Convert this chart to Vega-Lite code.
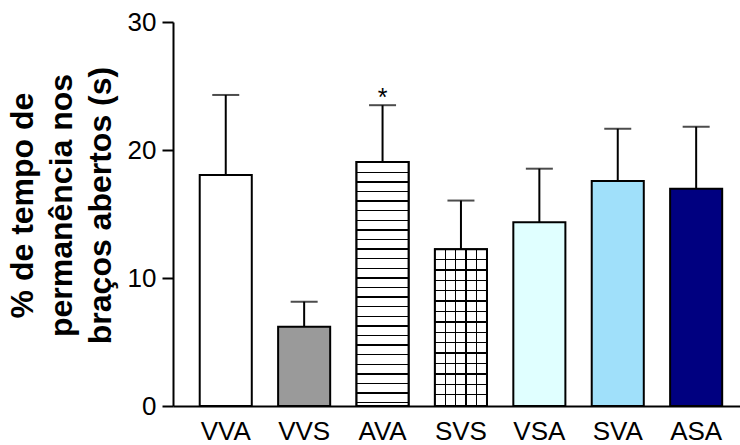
{
  "$schema": "https://vega.github.io/schema/vega-lite/v6.json",
  "autosize": {"type": "none"},
  "padding": {"left": 173, "top": 22, "right": 0, "bottom": 39},
  "width": 567,
  "height": 384,
  "background": "white",
  "config": {"font": "Liberation Sans", "view": {"stroke": null}},
  "data": {"values": [
    {"g": "VVA", "v": 18.05, "e": 24.3},
    {"g": "VVS", "v": 6.2, "e": 8.15},
    {"g": "AVA", "v": 19.06, "e": 23.5},
    {"g": "SVS", "v": 12.24, "e": 16.05},
    {"g": "VSA", "v": 14.35, "e": 18.54},
    {"g": "SVA", "v": 17.58, "e": 21.66},
    {"g": "ASA", "v": 16.98, "e": 21.82}
  ]},
  "encoding": {
    "x": {"field": "g", "type": "nominal", "sort": null,
      "scale": {"paddingInner": 0.336, "paddingOuter": 0.284, "align": 0.6},
      "axis": {"title": null, "labelAngle": 0, "ticks": false, "labelPadding": 12, "labelFontSize": 26, "labelColor": "black", "domainColor": "black", "domainWidth": 2, "labelFont": "Liberation Sans"}}
  },
  "layer": [
    {
      "mark": {"type": "bar", "stroke": "black", "strokeWidth": 2},
      "encoding": {
        "y": {"field": "v", "type": "quantitative",
          "scale": {"domain": [0, 30], "nice": false},
          "axis": {"values": [0, 10, 20, 30], "grid": false, "tickSize": 11, "tickWidth": 2, "tickColor": "black",
            "domainColor": "black", "domainWidth": 2, "labelFontSize": 26, "labelColor": "black", "labelPadding": 6,
            "labelFont": "Liberation Sans",
            "title": ["% de tempo de", "permanência nos", "braços abertos (s)"],
            "titleFontSize": 32, "titleFontWeight": "bold", "titleColor": "black", "titleLineHeight": 39,
            "titlePadding": 10, "titleY": 183, "titleFont": "Liberation Sans"}},
        "fill": {"field": "g", "type": "nominal", "legend": null,
          "scale": {"domain": ["VVA", "VVS", "AVA", "SVS", "VSA", "SVA", "ASA"],
            "range": ["#ffffff", "#9a9a9a", "#ffffff", "#ffffff", "#E0FFFF", "#A0E0FA", "#000080"]}}
      }
    },
    {
      "transform": [{"filter": "datum.g == 'AVA'"}],
      "mark": {"type": "bar", "stroke": "black", "strokeWidth": 2,
        "fill": {"gradient": "linear", "x1": 0, "y1": 0, "x2": 0, "y2": 1, "stops": [
          {"offset": 0, "color": "#fff"},
          {"offset": 0.0392, "color": "#fff"}, {"offset": 0.0392, "color": "#000"}, {"offset": 0.0452, "color": "#000"}, {"offset": 0.0452, "color": "#fff"},
          {"offset": 0.0786, "color": "#fff"}, {"offset": 0.0786, "color": "#000"}, {"offset": 0.0846, "color": "#000"}, {"offset": 0.0846, "color": "#fff"},
          {"offset": 0.1179, "color": "#fff"}, {"offset": 0.1179, "color": "#000"}, {"offset": 0.1239, "color": "#000"}, {"offset": 0.1239, "color": "#fff"},
          {"offset": 0.1572, "color": "#fff"}, {"offset": 0.1572, "color": "#000"}, {"offset": 0.1632, "color": "#000"}, {"offset": 0.1632, "color": "#fff"},
          {"offset": 0.1966, "color": "#fff"}, {"offset": 0.1966, "color": "#000"}, {"offset": 0.2026, "color": "#000"}, {"offset": 0.2026, "color": "#fff"},
          {"offset": 0.2359, "color": "#fff"}, {"offset": 0.2359, "color": "#000"}, {"offset": 0.2419, "color": "#000"}, {"offset": 0.2419, "color": "#fff"},
          {"offset": 0.2753, "color": "#fff"}, {"offset": 0.2753, "color": "#000"}, {"offset": 0.2813, "color": "#000"}, {"offset": 0.2813, "color": "#fff"},
          {"offset": 0.3146, "color": "#fff"}, {"offset": 0.3146, "color": "#000"}, {"offset": 0.3206, "color": "#000"}, {"offset": 0.3206, "color": "#fff"},
          {"offset": 0.3540, "color": "#fff"}, {"offset": 0.3540, "color": "#000"}, {"offset": 0.3600, "color": "#000"}, {"offset": 0.3600, "color": "#fff"},
          {"offset": 0.3933, "color": "#fff"}, {"offset": 0.3933, "color": "#000"}, {"offset": 0.3993, "color": "#000"}, {"offset": 0.3993, "color": "#fff"},
          {"offset": 0.4327, "color": "#fff"}, {"offset": 0.4327, "color": "#000"}, {"offset": 0.4387, "color": "#000"}, {"offset": 0.4387, "color": "#fff"},
          {"offset": 0.4720, "color": "#fff"}, {"offset": 0.4720, "color": "#000"}, {"offset": 0.4780, "color": "#000"}, {"offset": 0.4780, "color": "#fff"},
          {"offset": 0.5113, "color": "#fff"}, {"offset": 0.5113, "color": "#000"}, {"offset": 0.5173, "color": "#000"}, {"offset": 0.5173, "color": "#fff"},
          {"offset": 0.5507, "color": "#fff"}, {"offset": 0.5507, "color": "#000"}, {"offset": 0.5567, "color": "#000"}, {"offset": 0.5567, "color": "#fff"},
          {"offset": 0.5900, "color": "#fff"}, {"offset": 0.5900, "color": "#000"}, {"offset": 0.5960, "color": "#000"}, {"offset": 0.5960, "color": "#fff"},
          {"offset": 0.6294, "color": "#fff"}, {"offset": 0.6294, "color": "#000"}, {"offset": 0.6354, "color": "#000"}, {"offset": 0.6354, "color": "#fff"},
          {"offset": 0.6687, "color": "#fff"}, {"offset": 0.6687, "color": "#000"}, {"offset": 0.6747, "color": "#000"}, {"offset": 0.6747, "color": "#fff"},
          {"offset": 0.7081, "color": "#fff"}, {"offset": 0.7081, "color": "#000"}, {"offset": 0.7141, "color": "#000"}, {"offset": 0.7141, "color": "#fff"},
          {"offset": 0.7474, "color": "#fff"}, {"offset": 0.7474, "color": "#000"}, {"offset": 0.7534, "color": "#000"}, {"offset": 0.7534, "color": "#fff"},
          {"offset": 0.7868, "color": "#fff"}, {"offset": 0.7868, "color": "#000"}, {"offset": 0.7928, "color": "#000"}, {"offset": 0.7928, "color": "#fff"},
          {"offset": 0.8261, "color": "#fff"}, {"offset": 0.8261, "color": "#000"}, {"offset": 0.8321, "color": "#000"}, {"offset": 0.8321, "color": "#fff"},
          {"offset": 0.8654, "color": "#fff"}, {"offset": 0.8654, "color": "#000"}, {"offset": 0.8714, "color": "#000"}, {"offset": 0.8714, "color": "#fff"},
          {"offset": 0.9048, "color": "#fff"}, {"offset": 0.9048, "color": "#000"}, {"offset": 0.9108, "color": "#000"}, {"offset": 0.9108, "color": "#fff"},
          {"offset": 0.9441, "color": "#fff"}, {"offset": 0.9441, "color": "#000"}, {"offset": 0.9501, "color": "#000"}, {"offset": 0.9501, "color": "#fff"},
          {"offset": 0.9835, "color": "#fff"}, {"offset": 0.9835, "color": "#000"}, {"offset": 0.9895, "color": "#000"}, {"offset": 0.9895, "color": "#fff"},
          {"offset": 1, "color": "#fff"}
        ]}},
      "encoding": {"y": {"field": "v", "type": "quantitative"}}
    },
    {
      "transform": [{"filter": "datum.g == 'SVS'"}],
      "mark": {"type": "bar", "strokeWidth": 0,
        "fill": {"gradient": "linear", "x1": 0, "y1": 0, "x2": 0, "y2": 1, "stops": [
          {"offset": 0, "color": "#fff"},
          {"offset": 0.0606, "color": "#fff"}, {"offset": 0.0606, "color": "#000"}, {"offset": 0.0696, "color": "#000"}, {"offset": 0.0696, "color": "#fff"},
          {"offset": 0.1270, "color": "#fff"}, {"offset": 0.1270, "color": "#000"}, {"offset": 0.1360, "color": "#000"}, {"offset": 0.1360, "color": "#fff"},
          {"offset": 0.1933, "color": "#fff"}, {"offset": 0.1933, "color": "#000"}, {"offset": 0.2023, "color": "#000"}, {"offset": 0.2023, "color": "#fff"},
          {"offset": 0.2597, "color": "#fff"}, {"offset": 0.2597, "color": "#000"}, {"offset": 0.2687, "color": "#000"}, {"offset": 0.2687, "color": "#fff"},
          {"offset": 0.3261, "color": "#fff"}, {"offset": 0.3261, "color": "#000"}, {"offset": 0.3351, "color": "#000"}, {"offset": 0.3351, "color": "#fff"},
          {"offset": 0.3924, "color": "#fff"}, {"offset": 0.3924, "color": "#000"}, {"offset": 0.4014, "color": "#000"}, {"offset": 0.4014, "color": "#fff"},
          {"offset": 0.4588, "color": "#fff"}, {"offset": 0.4588, "color": "#000"}, {"offset": 0.4678, "color": "#000"}, {"offset": 0.4678, "color": "#fff"},
          {"offset": 0.5252, "color": "#fff"}, {"offset": 0.5252, "color": "#000"}, {"offset": 0.5342, "color": "#000"}, {"offset": 0.5342, "color": "#fff"},
          {"offset": 0.5915, "color": "#fff"}, {"offset": 0.5915, "color": "#000"}, {"offset": 0.6005, "color": "#000"}, {"offset": 0.6005, "color": "#fff"},
          {"offset": 0.6579, "color": "#fff"}, {"offset": 0.6579, "color": "#000"}, {"offset": 0.6669, "color": "#000"}, {"offset": 0.6669, "color": "#fff"},
          {"offset": 0.7243, "color": "#fff"}, {"offset": 0.7243, "color": "#000"}, {"offset": 0.7333, "color": "#000"}, {"offset": 0.7333, "color": "#fff"},
          {"offset": 0.7907, "color": "#fff"}, {"offset": 0.7907, "color": "#000"}, {"offset": 0.7997, "color": "#000"}, {"offset": 0.7997, "color": "#fff"},
          {"offset": 0.8570, "color": "#fff"}, {"offset": 0.8570, "color": "#000"}, {"offset": 0.8660, "color": "#000"}, {"offset": 0.8660, "color": "#fff"},
          {"offset": 0.9234, "color": "#fff"}, {"offset": 0.9234, "color": "#000"}, {"offset": 0.9324, "color": "#000"}, {"offset": 0.9324, "color": "#fff"},
          {"offset": 1, "color": "#fff"}
        ]}},
      "encoding": {"y": {"field": "v", "type": "quantitative"}}
    },
    {
      "transform": [{"filter": "datum.g == 'SVS'"}],
      "mark": {"type": "bar", "stroke": "black", "strokeWidth": 2,
        "fill": {"gradient": "linear", "x1": 0, "y1": 0, "x2": 1, "y2": 0, "stops": [
          {"offset": 0, "color": "rgba(0,0,0,0)"},
          {"offset": 0.187, "color": "rgba(0,0,0,0)"}, {"offset": 0.187, "color": "#000"}, {"offset": 0.213, "color": "#000"}, {"offset": 0.213, "color": "rgba(0,0,0,0)"},
          {"offset": 0.387, "color": "rgba(0,0,0,0)"}, {"offset": 0.387, "color": "#000"}, {"offset": 0.413, "color": "#000"}, {"offset": 0.413, "color": "rgba(0,0,0,0)"},
          {"offset": 0.587, "color": "rgba(0,0,0,0)"}, {"offset": 0.587, "color": "#000"}, {"offset": 0.613, "color": "#000"}, {"offset": 0.613, "color": "rgba(0,0,0,0)"},
          {"offset": 0.787, "color": "rgba(0,0,0,0)"}, {"offset": 0.787, "color": "#000"}, {"offset": 0.813, "color": "#000"}, {"offset": 0.813, "color": "rgba(0,0,0,0)"},
          {"offset": 1, "color": "rgba(0,0,0,0)"}
        ]}},
      "encoding": {"y": {"field": "v", "type": "quantitative"}}
    },
    {
      "mark": {"type": "rule", "color": "black", "strokeWidth": 2},
      "encoding": {"y": {"field": "v", "type": "quantitative"}, "y2": {"field": "e"}}
    },
    {
      "mark": {"type": "tick", "color": "black", "thickness": 2, "size": 27},
      "encoding": {"y": {"field": "e", "type": "quantitative"}}
    },
    {
      "transform": [{"filter": "datum.g == 'AVA'"}],
      "mark": {"type": "text", "text": "*", "fontSize": 25, "baseline": "alphabetic", "dy": 1, "color": "black", "font": "Liberation Sans"},
      "encoding": {"y": {"field": "e", "type": "quantitative"}}
    }
  ]
}
